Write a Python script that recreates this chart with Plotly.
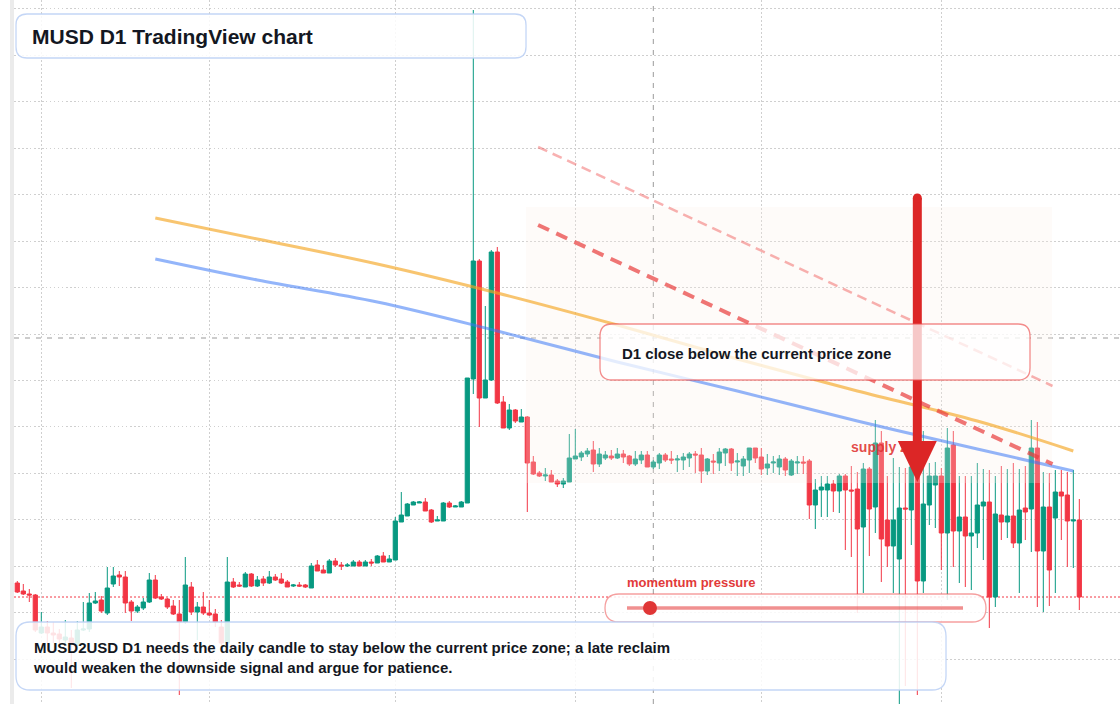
import pandas as pd
import plotly.graph_objects as go

# ---------------- data ----------------
DATES = pd.date_range("2025-01-28", periods=178, freq="D")

OPEN = [
0.9817, 0.9809, 0.9806, 0.9805, 0.9767, 0.9773, 0.9767, 0.9766, 0.9760, 0.9762,
0.9755, 0.9770, 0.9771, 0.9797, 0.9800, 0.9787, 0.9816, 0.9825, 0.9823, 0.9798,
0.9789, 0.9792, 0.9798, 0.9820, 0.9803, 0.9801, 0.9794, 0.9786, 0.9778, 0.9813,
0.9788, 0.9793, 0.9787, 0.9786, 0.9773, 0.9757, 0.9818, 0.9815, 0.9813, 0.9826,
0.9814, 0.9821, 0.9817, 0.9823, 0.9821, 0.9818, 0.9814, 0.9815, 0.9815, 0.9812,
0.9835, 0.9830, 0.9827, 0.9839, 0.9835, 0.9834, 0.9834, 0.9838, 0.9834, 0.9838,
0.9837, 0.9844, 0.9838, 0.9840, 0.9878, 0.9884, 0.9895, 0.9897, 0.9898, 0.9890,
0.9879, 0.9879, 0.9897, 0.9893, 0.9893, 0.9897, 1.0021, 1.0139, 1.0002, 1.0020,
1.0148, 0.9998, 0.9972, 0.9990, 0.9978, 0.9983, 0.9938, 0.9927, 0.9924, 0.9925,
0.9919, 0.9916, 0.9918, 0.9941, 0.9943, 0.9946, 0.9950, 0.9936, 0.9942, 0.9944,
0.9942, 0.9946, 0.9944, 0.9936, 0.9940, 0.9945, 0.9933, 0.9937, 0.9945, 0.9941,
0.9940, 0.9940, 0.9942, 0.9946, 0.9945, 0.9929, 0.9939, 0.9937, 0.9947, 0.9951,
0.9938, 0.9934, 0.9940, 0.9952, 0.9943, 0.9932, 0.9937, 0.9933, 0.9941, 0.9925,
0.9937, 0.9938, 0.9939, 0.9895, 0.9910, 0.9910, 0.9916, 0.9909, 0.9924, 0.9910,
0.9911, 0.9873, 0.9931, 0.9893, 0.9957, 0.9880, 0.9854, 0.9841, 0.9892, 0.9890,
0.9932, 0.9819, 0.9895, 0.9915, 0.9924, 0.9867, 0.9955, 0.9869, 0.9883, 0.9864,
0.9867, 0.9894, 0.9898, 0.9803, 0.9885, 0.9878, 0.9884, 0.9857, 0.9892, 0.9891,
0.9952, 0.9849, 0.9893, 0.9882, 0.9908, 0.9905, 0.9879, 0.9880]

HIGH = [
0.9819, 0.9816, 0.9811, 0.9806, 0.9788, 0.9779, 0.9778, 0.9771, 0.9780, 0.9770,
0.9779, 0.9798, 0.9807, 0.9808, 0.9804, 0.9833, 0.9833, 0.9829, 0.9829, 0.9800,
0.9795, 0.9802, 0.9827, 0.9825, 0.9806, 0.9802, 0.9800, 0.9800, 0.9843, 0.9818,
0.9798, 0.9808, 0.9800, 0.9791, 0.9780, 0.9843, 0.9822, 0.9818, 0.9828, 0.9827,
0.9824, 0.9824, 0.9829, 0.9826, 0.9827, 0.9820, 0.9816, 0.9818, 0.9816, 0.9837,
0.9840, 0.9835, 0.9841, 0.9842, 0.9838, 0.9837, 0.9840, 0.9840, 0.9840, 0.9841,
0.9845, 0.9848, 0.9845, 0.9883, 0.9908, 0.9897, 0.9899, 0.9899, 0.9902, 0.9891,
0.9884, 0.9898, 0.9899, 0.9895, 0.9899, 1.0022, 1.0390, 1.0141, 1.0094, 1.0150,
1.0153, 1.0004, 0.9996, 0.9991, 0.9991, 0.9984, 0.9944, 0.9929, 0.9932, 0.9930,
0.9921, 0.9922, 0.9966, 0.9971, 0.9949, 0.9952, 0.9959, 0.9952, 0.9949, 0.9950,
0.9952, 0.9950, 0.9945, 0.9949, 0.9949, 0.9949, 0.9940, 0.9947, 0.9947, 0.9949,
0.9945, 0.9947, 0.9948, 0.9949, 0.9952, 0.9942, 0.9946, 0.9952, 0.9952, 0.9952,
0.9947, 0.9944, 0.9952, 0.9952, 0.9952, 0.9946, 0.9944, 0.9945, 0.9943, 0.9941,
0.9944, 0.9944, 0.9941, 0.9921, 0.9924, 0.9924, 0.9920, 0.9926, 0.9926, 0.9934,
0.9928, 0.9937, 0.9933, 0.9980, 0.9969, 0.9924, 0.9942, 0.9933, 0.9932, 0.9938,
0.9945, 0.9969, 0.9937, 0.9938, 0.9932, 0.9972, 0.9969, 0.9924, 0.9924, 0.9924,
0.9937, 0.9931, 0.9930, 0.9924, 0.9934, 0.9931, 0.9937, 0.9931, 0.9934, 0.9980,
0.9978, 0.9928, 0.9927, 0.9930, 0.9930, 0.9928, 0.9930, 0.9901]

LOW = [
0.9807, 0.9805, 0.9798, 0.9768, 0.9766, 0.9757, 0.9757, 0.9752, 0.9755, 0.9712,
0.9750, 0.9769, 0.9768, 0.9796, 0.9787, 0.9785, 0.9813, 0.9814, 0.9787, 0.9779,
0.9787, 0.9790, 0.9797, 0.9801, 0.9800, 0.9791, 0.9785, 0.9705, 0.9776, 0.9785,
0.9760, 0.9785, 0.9784, 0.9773, 0.9755, 0.9755, 0.9812, 0.9813, 0.9813, 0.9813,
0.9813, 0.9814, 0.9816, 0.9819, 0.9816, 0.9813, 0.9813, 0.9813, 0.9812, 0.9812,
0.9829, 0.9827, 0.9827, 0.9833, 0.9830, 0.9833, 0.9834, 0.9834, 0.9834, 0.9834,
0.9837, 0.9838, 0.9838, 0.9840, 0.9878, 0.9884, 0.9895, 0.9897, 0.9889, 0.9877,
0.9879, 0.9879, 0.9892, 0.9893, 0.9893, 0.9897, 1.0006, 0.9973, 1.0002, 1.0019,
0.9996, 0.9972, 0.9970, 0.9977, 0.9978, 0.9888, 0.9925, 0.9923, 0.9919, 0.9918,
0.9913, 0.9912, 0.9918, 0.9941, 0.9939, 0.9943, 0.9928, 0.9933, 0.9940, 0.9940,
0.9941, 0.9937, 0.9934, 0.9934, 0.9936, 0.9933, 0.9931, 0.9931, 0.9938, 0.9936,
0.9928, 0.9930, 0.9933, 0.9927, 0.9917, 0.9925, 0.9926, 0.9929, 0.9934, 0.9929,
0.9924, 0.9924, 0.9927, 0.9937, 0.9925, 0.9925, 0.9927, 0.9925, 0.9924, 0.9924,
0.9926, 0.9926, 0.9881, 0.9871, 0.9883, 0.9883, 0.9888, 0.9887, 0.9850, 0.9843,
0.9787, 0.9807, 0.9844, 0.9867, 0.9818, 0.9833, 0.9807, 0.9692, 0.9714, 0.9855,
0.9705, 0.9807, 0.9875, 0.9872, 0.9830, 0.9800, 0.9833, 0.9817, 0.9813, 0.9810,
0.9852, 0.9840, 0.9772, 0.9793, 0.9860, 0.9862, 0.9852, 0.9807, 0.9860, 0.9848,
0.9793, 0.9788, 0.9794, 0.9807, 0.9860, 0.9833, 0.9832, 0.9790]

CLOSE = [
0.9808, 0.9806, 0.9805, 0.9770, 0.9773, 0.9767, 0.9765, 0.9761, 0.9763, 0.9757,
0.9770, 0.9771, 0.9797, 0.9799, 0.9789, 0.9812, 0.9824, 0.9823, 0.9797, 0.9789,
0.9793, 0.9798, 0.9820, 0.9802, 0.9801, 0.9793, 0.9786, 0.9778, 0.9815, 0.9788,
0.9793, 0.9787, 0.9785, 0.9778, 0.9757, 0.9818, 0.9813, 0.9814, 0.9826, 0.9814,
0.9820, 0.9817, 0.9823, 0.9820, 0.9817, 0.9813, 0.9815, 0.9814, 0.9813, 0.9834,
0.9829, 0.9827, 0.9839, 0.9835, 0.9834, 0.9835, 0.9838, 0.9834, 0.9838, 0.9837,
0.9844, 0.9838, 0.9841, 0.9879, 0.9885, 0.9896, 0.9898, 0.9898, 0.9889, 0.9878,
0.9880, 0.9897, 0.9893, 0.9894, 0.9898, 1.0022, 1.0139, 1.0002, 1.0020, 1.0148,
0.9997, 0.9972, 0.9990, 0.9979, 0.9983, 0.9937, 0.9926, 0.9924, 0.9925, 0.9918,
0.9916, 0.9919, 0.9942, 0.9944, 0.9947, 0.9949, 0.9936, 0.9946, 0.9945, 0.9942,
0.9946, 0.9943, 0.9936, 0.9941, 0.9945, 0.9933, 0.9938, 0.9945, 0.9940, 0.9940,
0.9941, 0.9943, 0.9946, 0.9945, 0.9929, 0.9941, 0.9938, 0.9948, 0.9951, 0.9937,
0.9939, 0.9941, 0.9952, 0.9942, 0.9931, 0.9936, 0.9938, 0.9941, 0.9930, 0.9939,
0.9938, 0.9937, 0.9895, 0.9910, 0.9913, 0.9916, 0.9909, 0.9924, 0.9910, 0.9909,
0.9871, 0.9931, 0.9891, 0.9957, 0.9861, 0.9854, 0.9880, 0.9892, 0.9891, 0.9933,
0.9819, 0.9896, 0.9924, 0.9924, 0.9867, 0.9952, 0.9869, 0.9883, 0.9864, 0.9867,
0.9895, 0.9898, 0.9803, 0.9886, 0.9878, 0.9884, 0.9857, 0.9890, 0.9888, 0.9952,
0.9849, 0.9893, 0.9830, 0.9908, 0.9904, 0.9879, 0.9880, 0.9803]

# moving averages sampled at candle indices
MA_IDX = [23, 40, 60, 80, 100, 120, 140, 160, 176]
MA_SLOW = [1.0182, 1.0161, 1.0136, 1.0107, 1.0075, 1.0041, 1.0009, 0.9979, 0.9949]
MA_FAST = [1.0141, 1.0120, 1.0098, 1.0069, 1.0038, 1.0009, 0.9979, 0.9951, 0.9929]

# descending channel (dashed) and supply zone
CH_X = ["2025-04-24 19:12", "2025-07-19 12:45"]
CH_UPPER = [1.0253, 1.0014]
CH_LOWER = [1.0175, 0.9936]
ZONE_X = ["2025-04-22 19:12", "2025-07-19 10:48"]
ZONE_Y = [0.9917, 1.0193]
SUPPLY_LABEL = ("2025-06-22 16:48", 0.9952)

CROSS_DATE = DATES[106]
CROSS_PRICE = 1.0062

ARROW_DATE = DATES[150]
ARROW_TOP = 1.0202
ARROW_BASE = 0.9959
ARROW_TIP = 0.9918

assert len(OPEN) == len(HIGH) == len(LOW) == len(CLOSE) == len(DATES)

# ---------------- style ----------------
GREEN = "#089981"
RED = "#f23645"
TXT = "#131722"
FONT = "Liberation Sans, Arial, sans-serif"
W, H, LM = 1120, 704, 14


def px(x):
    return (x - LM) / (W - LM)


def py(y):
    return 1 - y / H


def rounded(x0, y0, x1, y1, r):
    P = lambda a, b: f"{px(a):.6f},{py(b):.6f}"
    return (f"M {P(x0 + r, y0)} L {P(x1 - r, y0)} Q {P(x1, y0)} {P(x1, y0 + r)} "
            f"L {P(x1, y1 - r)} Q {P(x1, y1)} {P(x1 - r, y1)} "
            f"L {P(x0 + r, y1)} Q {P(x0, y1)} {P(x0, y1 - r)} "
            f"L {P(x0, y0 + r)} Q {P(x0, y0)} {P(x0 + r, y0)} Z")


fig = go.Figure()

fig.add_trace(go.Candlestick(
    x=DATES, open=OPEN, high=HIGH, low=LOW, close=CLOSE,
    increasing=dict(line=dict(color=GREEN, width=1), fillcolor=GREEN),
    decreasing=dict(line=dict(color=RED, width=1), fillcolor=RED),
    whiskerwidth=0, hoverinfo="skip", showlegend=False))

# supply zone (translucent, above candles)
fig.add_trace(go.Scatter(
    x=[ZONE_X[0], ZONE_X[1], ZONE_X[1], ZONE_X[0], ZONE_X[0]],
    y=[ZONE_Y[0], ZONE_Y[0], ZONE_Y[1], ZONE_Y[1], ZONE_Y[0]],
    mode="lines", fill="toself", fillcolor="rgba(252,240,232,0.25)",
    line=dict(width=0, color="rgba(0,0,0,0)"), hoverinfo="skip", showlegend=False))

ma_x = [DATES[i] for i in MA_IDX]
fig.add_trace(go.Scatter(x=ma_x, y=MA_SLOW, mode="lines", line=dict(color="rgba(245,166,35,0.65)", width=3, shape="spline"),
                         hoverinfo="skip", showlegend=False))
fig.add_trace(go.Scatter(x=ma_x, y=MA_FAST, mode="lines", line=dict(color="rgba(59,120,246,0.55)", width=3, shape="spline"),
                         hoverinfo="skip", showlegend=False))

fig.add_trace(go.Scatter(x=CH_X, y=CH_UPPER, mode="lines", line=dict(color="rgba(239,68,68,0.42)", width=2.5, dash="10px,6px"),
                         hoverinfo="skip", showlegend=False))
fig.add_trace(go.Scatter(x=CH_X, y=CH_LOWER, mode="lines", line=dict(color="rgba(232,60,60,0.7)", width=4, dash="12px,8px"),
                         hoverinfo="skip", showlegend=False))

fig.add_trace(go.Scatter(x=[SUPPLY_LABEL[0]], y=[SUPPLY_LABEL[1]], mode="text", text=["<b>supply zone</b>"],
                         textposition="middle center", textfont=dict(family=FONT, size=14, color="rgba(224,52,52,0.9)"),
                         hoverinfo="skip", showlegend=False))

shapes = [
    # crosshair + last price line (below candles)
    dict(type="line", xref="x", yref="paper", x0=CROSS_DATE, x1=CROSS_DATE, y0=0, y1=1, layer="below",
         line=dict(color="#9a9a9a", width=1, dash="5px,6px")),
    dict(type="line", xref="paper", yref="y", x0=0, x1=1, y0=CROSS_PRICE, y1=CROSS_PRICE, layer="below",
         line=dict(color="#9a9a9a", width=1, dash="5px,6px")),
    dict(type="line", xref="paper", yref="y", x0=0, x1=1, y0=CLOSE[-1], y1=CLOSE[-1], layer="below",
         line=dict(color=RED, width=1, dash="2px,2px")),
    # left gutter bar
    dict(type="rect", xref="paper", yref="paper", x0=px(10), x1=px(14), y0=0, y1=1, layer="above",
         line=dict(width=0), fillcolor="#ebebeb"),
    # arrow
    dict(type="line", xref="x", yref="y", x0=ARROW_DATE, x1=ARROW_DATE, y0=ARROW_TOP, y1=ARROW_BASE, layer="above",
         line=dict(color="#dc2626", width=9)),
    dict(type="circle", xref="x", yref="y", xsizemode="pixel", ysizemode="pixel", xanchor=ARROW_DATE, yanchor=ARROW_TOP,
         x0=-4.5, x1=4.5, y0=-4.5, y1=4.5, layer="above", line=dict(width=0), fillcolor="#dc2626"),
    dict(type="path", xref="x", yref="y", xsizemode="pixel", ysizemode="pixel", xanchor=ARROW_DATE, yanchor=ARROW_TIP,
         path="M -19.5,41 L 19.5,41 L 0,0 Z", layer="above", line=dict(width=0), fillcolor="#dc2626"),
    # callout box
    dict(type="path", xref="paper", yref="paper", path=rounded(600, 324, 1030, 380, 12), layer="above",
         fillcolor="rgba(255,255,255,0.75)", line=dict(color="rgba(236,80,80,0.65)", width=1.3)),
    # momentum widget
    dict(type="path", xref="paper", yref="paper", path=rounded(605, 594, 986, 622, 14), layer="above",
         fillcolor="rgba(255,255,255,0.86)", line=dict(color="rgba(236,80,80,0.55)", width=1.3)),
    dict(type="line", xref="paper", yref="paper", x0=px(627), x1=px(963), y0=py(608), y1=py(608), layer="above",
         line=dict(color="rgba(230,70,70,0.6)", width=3.5)),
    dict(type="circle", xref="paper", yref="paper", x0=px(643), x1=px(657), y0=py(601), y1=py(615), layer="above",
         line=dict(width=0), fillcolor="#e03636"),
    # bottom note box
    dict(type="path", xref="paper", yref="paper", path=rounded(16, 622, 946, 690, 14), layer="above",
         fillcolor="rgba(255,255,255,0.86)", line=dict(color="rgba(190,210,245,0.9)", width=1.3)),
    # title box
    dict(type="path", xref="paper", yref="paper", path=rounded(16, 14, 526, 58, 11), layer="above",
         fillcolor="rgba(255,255,255,0.86)", line=dict(color="rgba(190,210,245,0.9)", width=1.3)),
]

annotations = [
    dict(text="<b>MUSD D1 TradingView chart</b>", x=px(30), y=py(36), xref="paper", yref="paper",
         xanchor="left", yanchor="middle", showarrow=False, font=dict(family=FONT, size=21, color=TXT)),
    dict(text="<b>D1 close below the current price zone</b>", x=px(619.5), y=py(353), xref="paper", yref="paper",
         xanchor="left", yanchor="middle", showarrow=False, font=dict(family=FONT, size=15, color=TXT)),
    dict(text="<b>MUSD2USD D1 needs the daily candle to stay below the current price zone; a late reclaim<br>"
              "would weaken the downside signal and argue for patience.</b>",
         x=px(31), y=py(657), xref="paper", yref="paper", xanchor="left", yanchor="middle", align="left",
         showarrow=False, font=dict(family=FONT, size=15, color=TXT)),
    dict(text="<b>momentum pressure</b>", x=px(625), y=py(582), xref="paper", yref="paper",
         xanchor="left", yanchor="middle", showarrow=False, font=dict(family=FONT, size=13, color="#e23a3a")),
]

fig.update_layout(
    width=W, height=H, margin=dict(l=LM, r=0, t=0, b=0),
    paper_bgcolor="white", plot_bgcolor="white",
    showlegend=False, hovermode=False, boxgap=0.3, boxgroupgap=0,
    shapes=shapes, annotations=annotations,
    font=dict(family=FONT),
    xaxis=dict(type="date", range=["2025-01-27 10:48", "2025-07-30 18:43"], rangeslider=dict(visible=False),
               dtick="M1", tick0="2025-02-01", showgrid=True, gridcolor="#cfcfcf", griddash="1.5px,2.5px", gridwidth=1,
               showticklabels=False, ticks="", zeroline=False, showline=False, fixedrange=True),
    yaxis=dict(range=[0.9696, 1.0400], tick0=1.0066, dtick=0.004645, showgrid=True, gridcolor="#cfcfcf",
               griddash="1.5px,2.5px", gridwidth=1, showticklabels=False, ticks="", zeroline=False, showline=False,
               fixedrange=True),
)

fig.write_html("out.html", config={"displayModeBar": False})
